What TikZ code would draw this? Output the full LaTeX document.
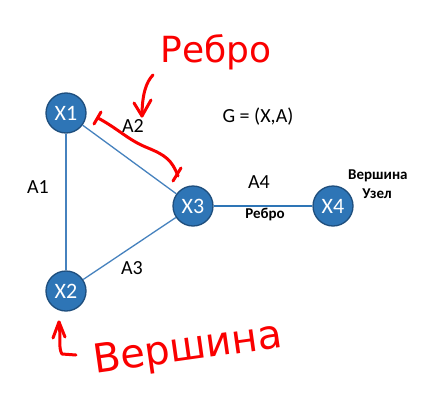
\documentclass[tikz,border=0pt]{standalone}
\usepackage{fontspec}
\setmainfont{Carlito}
\newfontfamily\handfont{DejaVu Sans}
\usetikzlibrary{arrows.meta}
\definecolor{nodefill}{RGB}{46,117,182}
\definecolor{nodeborder}{RGB}{30,78,125}
\definecolor{edgeblue}{RGB}{70,130,190}
\definecolor{inkred}{RGB}{250,0,0}
\tikzset{
  vert/.style={circle, fill=nodefill, draw=nodeborder, line width=1.3pt, minimum size=40pt, inner sep=0pt, text=white, font=\fontsize{22}{22}\selectfont},
  edge/.style={draw=edgeblue, line width=1.3pt},
  lab/.style={font=\fontsize{20}{20}\selectfont, text=black},
  smalllab/.style={font=\bfseries\fontsize{15}{15}\selectfont, text=black, inner sep=1pt},
  ink/.style={draw=inkred, line width=3pt, line cap=round, line join=round},
  handtxt/.style={text=inkred, inner sep=1pt}
}
\begin{document}
\begin{tikzpicture}[x=1pt,y=1pt]
\useasboundingbox (0,0) rectangle (430,-404);
\fill[white] (0,0) rectangle (430,-404);
% vertices
\node[vert] (x1) at (66,-113) {X1};
\node[vert] (x2) at (66,-291) {X2};
\node[vert] (x3) at (193,-206) {X3};
\node[vert] (x4) at (333,-206) {X4};
% edges
\draw[edge] (x1) -- (x2);
\draw[edge] (x1) -- (x3);
\draw[edge] (x2) -- (x3);
\draw[edge, draw=nodefill, line width=2.4pt] (x3) -- (x4);
% labels
\node[lab] (a1) at (38,-187) {A1};
\node[lab] (a2) at (133,-126) {A2};
\node[lab] (a3) at (132,-268) {A3};
\node[lab] (a4) at (259,-182) {A4};
\node[lab] (g) at (258,-117) {G = (X,A)};
\node[smalllab] (reb) at (265,-215) {Ребро};
\node[smalllab, anchor=west] (ver) at (347,-176) {Вершина};
\node[smalllab] (uz) at (377,-194) {Узел};
% red handwriting
\node[handtxt, font=\handfont\fontsize{36}{36}\selectfont] (hreb) at (216,-52) {Ребро};
\node[handtxt, font=\handfont\fontsize{40}{40}\selectfont, rotate=8] (hver) at (188,-350) {Вершина};
% red arrow to A2
\coordinate (r1s) at (153,-75);
\coordinate (r1e) at (142,-116);
\draw[ink] (r1s) .. controls (146,-82) and (142,-95) .. (r1e);
\draw[ink] (134,-103) -- (r1e) -- (151,-100);
% red bracket along edge X1-X3
\coordinate (b1) at (98,-118);
\coordinate (b2) at (178,-176);
\draw[ink] (b1) .. controls (120,-130) and (128,-140) .. (148,-148) .. controls (165,-155) and (172,-160) .. (b2);
\draw[ink] (94,-124) -- (101,-112);
\draw[ink] (173,-181) -- (181,-168);
% red arrow to X2
\coordinate (r2t) at (59,-322);
\draw[ink] (r2t) .. controls (61,-335) and (58,-348) .. (62,-354) -- (76,-355);
\draw[ink] (53,-338) -- (r2t) -- (65,-337);
\end{tikzpicture}
\end{document}
